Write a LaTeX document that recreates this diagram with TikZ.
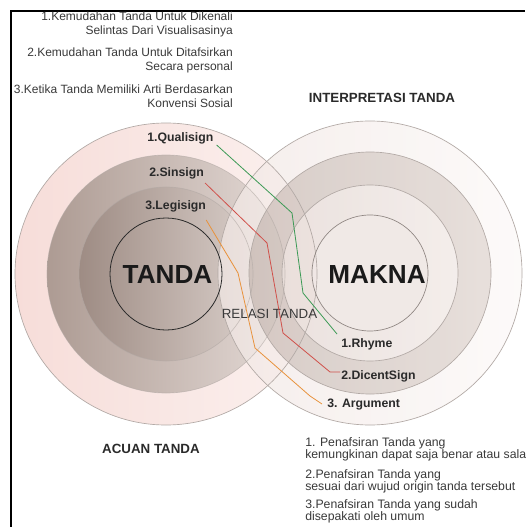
\documentclass[tikz,border=0pt]{standalone}
\usepackage{fontspec}
\setmainfont{Liberation Sans}
\usetikzlibrary{calc}
\definecolor{txtgray}{HTML}{3A3A3A}
\definecolor{lbl}{HTML}{2A2A2A}
\definecolor{big}{HTML}{1A1A1A}
\definecolor{ringline}{HTML}{B2A9A5}
\definecolor{gline}{HTML}{3C9A55}
\definecolor{rline}{HTML}{D0504A}
\definecolor{oline}{HTML}{E8923C}
\definecolor{loA}{HTML}{F7DDD9}
\definecolor{loB}{HTML}{FBF1EF}
\definecolor{lmA}{HTML}{AD9B93}
\definecolor{lmB}{HTML}{E4DAD6}
\definecolor{liA}{HTML}{9E8C84}
\definecolor{liB}{HTML}{D8CDC8}
\definecolor{roA}{HTML}{F2E8E5}
\definecolor{roB}{HTML}{FCF9F8}
\definecolor{rmA}{HTML}{CDC0BA}
\definecolor{rmB}{HTML}{E2D8D3}
\definecolor{riA}{HTML}{E8DDD9}
\definecolor{riB}{HTML}{F2EBE8}
\definecolor{rcore}{HTML}{EFE7E4}
\definecolor{mline}{HTML}{8E8581}
\definecolor{tline}{HTML}{2A2A2A}
\tikzset{
  small/.style={text=txtgray, font=\fontsize{9}{11}\selectfont, inner sep=0pt},
  smallb/.style={text=txtgray, font=\fontsize{9.2}{8.8}\selectfont, inner sep=0pt, align=left, anchor=west},
  lab/.style={text=lbl, font=\bfseries\fontsize{9.2}{11}\selectfont, inner sep=0pt},
  title/.style={text=lbl, font=\bfseries\fontsize{10}{12}\selectfont, inner sep=0pt},
  huge/.style={text=big, font=\bfseries\fontsize{19.6}{22}\selectfont, inner sep=0pt},
  ring/.style={draw=ringline, line width=0.5pt},
  conn/.style={line width=0.6pt},
}
\begin{document}
\begin{tikzpicture}[x=0.75pt,y=-0.75pt]
\useasboundingbox (0,0) rectangle (525,527);
\fill[white] (0,0) rectangle (525,527);
\coordinate (L) at (166,274);
\coordinate (R) at (370,273);
% left circle (TANDA)
\shade[left color=loA, right color=loB] (L) circle[radius=113.25pt];
\shade[left color=lmA, right color=lmB] (L) circle[radius=89.25pt];
\shade[left color=liA, right color=liB] (L) circle[radius=65.25pt];
% right circle (MAKNA), semi transparent annuli
\shade[even odd rule, left color=roA, right color=roB, fill opacity=0.75] (R) circle[radius=114pt] (R) circle[radius=90.75pt];
\shade[even odd rule, left color=rmA, right color=rmB, fill opacity=0.8] (R) circle[radius=90.75pt] (R) circle[radius=66pt];
\shade[even odd rule, left color=riA, right color=riB, fill opacity=0.85] (R) circle[radius=66pt] (R) circle[radius=43.5pt];
\fill[rcore, fill opacity=0.9] (R) circle[radius=43.5pt];
% outlines
\draw[ring] (L) circle[radius=113.25pt];
\draw[ring, draw opacity=0.6] (L) circle[radius=89.25pt];
\draw[ring, draw opacity=0.6] (L) circle[radius=65.25pt];
\draw[ring] (R) circle[radius=114pt];
\draw[ring] (R) circle[radius=90.75pt];
\draw[ring] (R) circle[radius=66pt];
\draw[draw=mline, line width=0.5pt] (R) circle[radius=43.5pt];
\draw[draw=tline, line width=0.6pt] (L) circle[radius=42pt];
% frame
\draw[line width=1.5pt, black] (11,527) -- (11,11) -- (525,11);
% texts top-left
\node[small, align=right, anchor=east] (t1) at (233,24.3) {1.Kemudahan Tanda Untuk Dikenali\\Selintas Dari Visualisasinya};
\node[small, align=right, anchor=east] (t2) at (233,60.5) {2.Kemudahan Tanda Untuk Ditafsirkan\\Secara personal};
\node[small, align=right, anchor=east] (t3) at (233,96.3) {3.Ketika Tanda Memiliki Arti Berdasarkan\\Konvensi Sosial};
% titles
\node[title] (it) at (382,98) {INTERPRETASI TANDA};
\node[title] (at) at (151,449) {ACUAN TANDA};
% big labels
\node[huge] (tanda) at (167.5,275) {TANDA};
\node[huge] (makna) at (377,275) {MAKNA};
\node[text=txtgray, font=\fontsize{10}{12}\selectfont, inner sep=0pt] (rel) at (269.5,314) {RELASI TANDA};
% left labels
\node[lab, anchor=west] (q) at (147,138) {1.Qualisign};
\node[lab, anchor=west] (s) at (149,173) {2.Sinsign};
\node[lab, anchor=west] (g) at (145,206) {3.Legisign};
% right labels
\node[lab, anchor=west] (rh) at (341,344) {1.Rhyme};
\node[lab, anchor=west] (dc) at (341,376) {2.DicentSign};
\node[lab, anchor=west] (ar) at (327,405) {3. Argument};
% connectors
\coordinate (g1) at (292,213);
\coordinate (g2) at (303,293);
\draw[conn, gline] ($(q.south east)+(3,1)$) -- (g1) -- (g2) -- ($(rh.north west)+(-4,-4)$);
\coordinate (r1) at (267,243);
\coordinate (r2) at (283,333);
\coordinate (r3) at (330,372);
\draw[conn, rline] ($(s.south east)+(1,4)$) -- (r1) -- (r2) -- (r3) -- ($(dc.west)+(-1,-4)$);
\coordinate (o1) at (238,273);
\coordinate (o2) at (255,348);
\coordinate (o3) at (310,396);
\draw[conn, oline] ($(g.south east)+(0,8)$) -- (o1) -- (o2) -- (o3) -- ($(ar.west)+(-5,-1)$);
% bottom-right texts
\node[smallb] (b1) at (305,449) {1. Penafsiran Tanda yang\\kemungkinan dapat saja benar atau sala};
\node[smallb] (b2) at (305,481.5) {2.Penafsiran Tanda yang\\sesuai dari wujud origin tanda tersebut};
\node[smallb] (b3) at (305,511.5) {3.Penafsiran Tanda yang sudah\\disepakati oleh umum};
\end{tikzpicture}
\end{document}
